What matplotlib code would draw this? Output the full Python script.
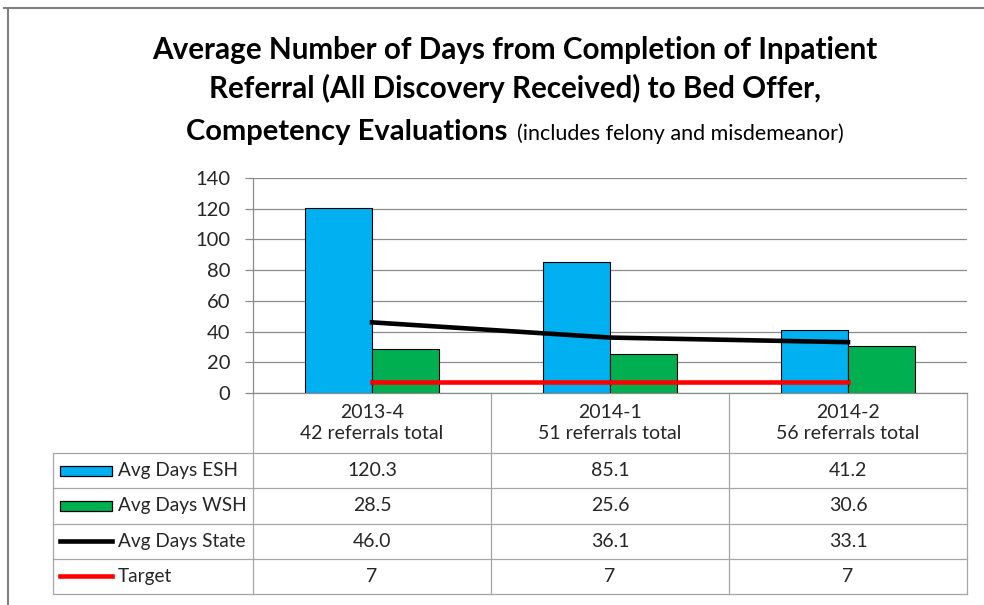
import matplotlib
matplotlib.use("Agg")
import matplotlib.pyplot as plt
import matplotlib.transforms as mtransforms
import numpy as np
from matplotlib.lines import Line2D
from matplotlib.patches import Rectangle

plt.rcParams["font.family"] = ["Lato", "DejaVu Sans"]

# ---------------------------------------------------------------------------
# Data
# ---------------------------------------------------------------------------
quarters = ["2013-4", "2014-1", "2014-2"]
referrals = [42, 51, 56]
avg_esh = [120.3, 85.1, 41.2]
avg_wsh = [28.5, 25.6, 30.6]
avg_state = [46.0, 36.1, 33.1]
target = [7, 7, 7]

series_names = ["Avg Days ESH", "Avg Days WSH", "Avg Days State", "Target"]
series_values = [avg_esh, avg_wsh, avg_state, target]
series_fmt = ["{:.1f}", "{:.1f}", "{:.1f}", "{:d}"]

ESH_C, WSH_C, STATE_C, TARGET_C = "#00B0F0", "#00B050", "black", "#FF0000"
GRID_C = "#8C8C8C"
TABLE_C = "#A6A6A6"
TXT_C = "#262626"

# ---------------------------------------------------------------------------
# Figure / axes (pixel layout of the reference)
# ---------------------------------------------------------------------------
W, H = 984, 605
fig = plt.figure(figsize=(W / 100, H / 100), dpi=100)
ax = fig.add_axes([253 / W, 1 - 393 / H, (967 - 253) / W, (393 - 178) / H])

x = np.arange(len(quarters))
bw = 0.283
ax.bar(x - bw / 2, avg_esh, bw, color=ESH_C, edgecolor="black", linewidth=0.8, zorder=2)
ax.bar(x + bw / 2, avg_wsh, bw, color=WSH_C, edgecolor="black", linewidth=0.8, zorder=2)
ax.plot(x, avg_state, color=STATE_C, lw=3.3, zorder=3)
ax.plot(x, target, color=TARGET_C, lw=3.3, zorder=3)

ax.set_xlim(-0.5, len(quarters) - 0.5)
ax.set_ylim(0, 140)
ax.set_yticks(range(0, 141, 20))
ax.set_xticks([])
ax.yaxis.grid(True, color=GRID_C, lw=0.9)
ax.set_axisbelow(True)
for s in ["top", "right"]:
    ax.spines[s].set_visible(False)
for s in ["left", "bottom"]:
    ax.spines[s].set_color(GRID_C)
    ax.spines[s].set_linewidth(0.9)
ax.tick_params(axis="y", length=5.8, width=0.9, color=GRID_C, pad=10.5,
               labelsize=14.5, labelcolor=TXT_C)

# ---------------------------------------------------------------------------
# Data table below the plot
# ---------------------------------------------------------------------------
tr = mtransforms.blended_transform_factory(ax.transData, ax.transAxes)
px_y = 1 / 215          # one pixel in axes-y units
px_x = 1 / 238          # one pixel in data-x units
header_h = 60 * px_y
row_h = 35.25 * px_y
x_left = -0.5 - 200 * px_x
x_right = len(quarters) - 0.5
bounds = [-0.5 + i for i in range(len(quarters) + 1)]
y_bottom = -header_h - row_h * len(series_names)

lkw = dict(color=TABLE_C, lw=0.9, transform=tr, clip_on=False)
for xb in bounds:
    ax.add_line(Line2D([xb, xb], [0, y_bottom], **lkw))
ax.add_line(Line2D([x_left, x_left], [-header_h, y_bottom], **lkw))
for r in range(len(series_names) + 1):
    yy = -header_h - r * row_h
    ax.add_line(Line2D([x_left, x_right], [yy, yy], **lkw))

for i, (q, n) in enumerate(zip(quarters, referrals)):
    ax.text(i, -header_h / 2, f"{q}\n{n} referrals total", transform=tr,
            ha="center", va="center", fontsize=14, color=TXT_C, linespacing=1.3)

key_x0 = -0.5 - 193 * px_x
key_w = 52 * px_x
label_x = -0.5 - 135 * px_x
for r, (name, vals, fmt) in enumerate(zip(series_names, series_values, series_fmt)):
    yc = -header_h - (r + 0.5) * row_h
    if r < 2:
        color = ESH_C if r == 0 else WSH_C
        ax.add_patch(Rectangle((key_x0, yc - 5 * px_y), key_w, 10 * px_y, transform=tr,
                               facecolor=color, edgecolor="black", lw=0.9, clip_on=False))
    else:
        color = STATE_C if r == 2 else TARGET_C
        ax.add_line(Line2D([key_x0, key_x0 + key_w], [yc, yc], color=color, lw=3.3,
                           transform=tr, clip_on=False))
    ax.text(label_x, yc, name, transform=tr, ha="left", va="center",
            fontsize=13.7, color=TXT_C)
    for i, v in enumerate(vals):
        ax.text(i, yc, fmt.format(v), transform=tr, ha="center", va="center",
                fontsize=14, color=TXT_C)

# ---------------------------------------------------------------------------
# Title
# ---------------------------------------------------------------------------
cx = 515
fig.text(cx / W, 1 - 59 / H, "Average Number of Days from Completion of Inpatient",
         ha="center", va="baseline", fontsize=21.3, fontweight="bold")
fig.text(cx / W, 1 - 98 / H, "Referral (All Discovery Received) to Bed Offer,",
         ha="center", va="baseline", fontsize=21.3, fontweight="bold")
t1 = fig.text(0, 1 - 140 / H, "Competency Evaluations", ha="left", va="baseline",
              fontsize=21, fontweight="bold")
t2 = fig.text(0, 1 - 140 / H, "(includes felony and misdemeanor)", ha="left",
              va="baseline", fontsize=15.5)
fig.canvas.draw()
rend = fig.canvas.get_renderer()
w1 = t1.get_window_extent(rend).width
w2 = t2.get_window_extent(rend).width
gap = 10
x0 = cx - (w1 + gap + w2) / 2
t1.set_x(x0 / W)
t2.set_x((x0 + w1 + gap) / W)

# outer frame (partly cut off in the reference)
fig.add_artist(Line2D([4 / W, 1], [1 - 8 / H, 1 - 8 / H], color="#808080", lw=1.5,
                      transform=fig.transFigure))
fig.add_artist(Line2D([8 / W, 8 / W], [0, 1 - 8 / H], color="#808080", lw=1.5,
                      transform=fig.transFigure))

fig.savefig("out.png", dpi=100)
